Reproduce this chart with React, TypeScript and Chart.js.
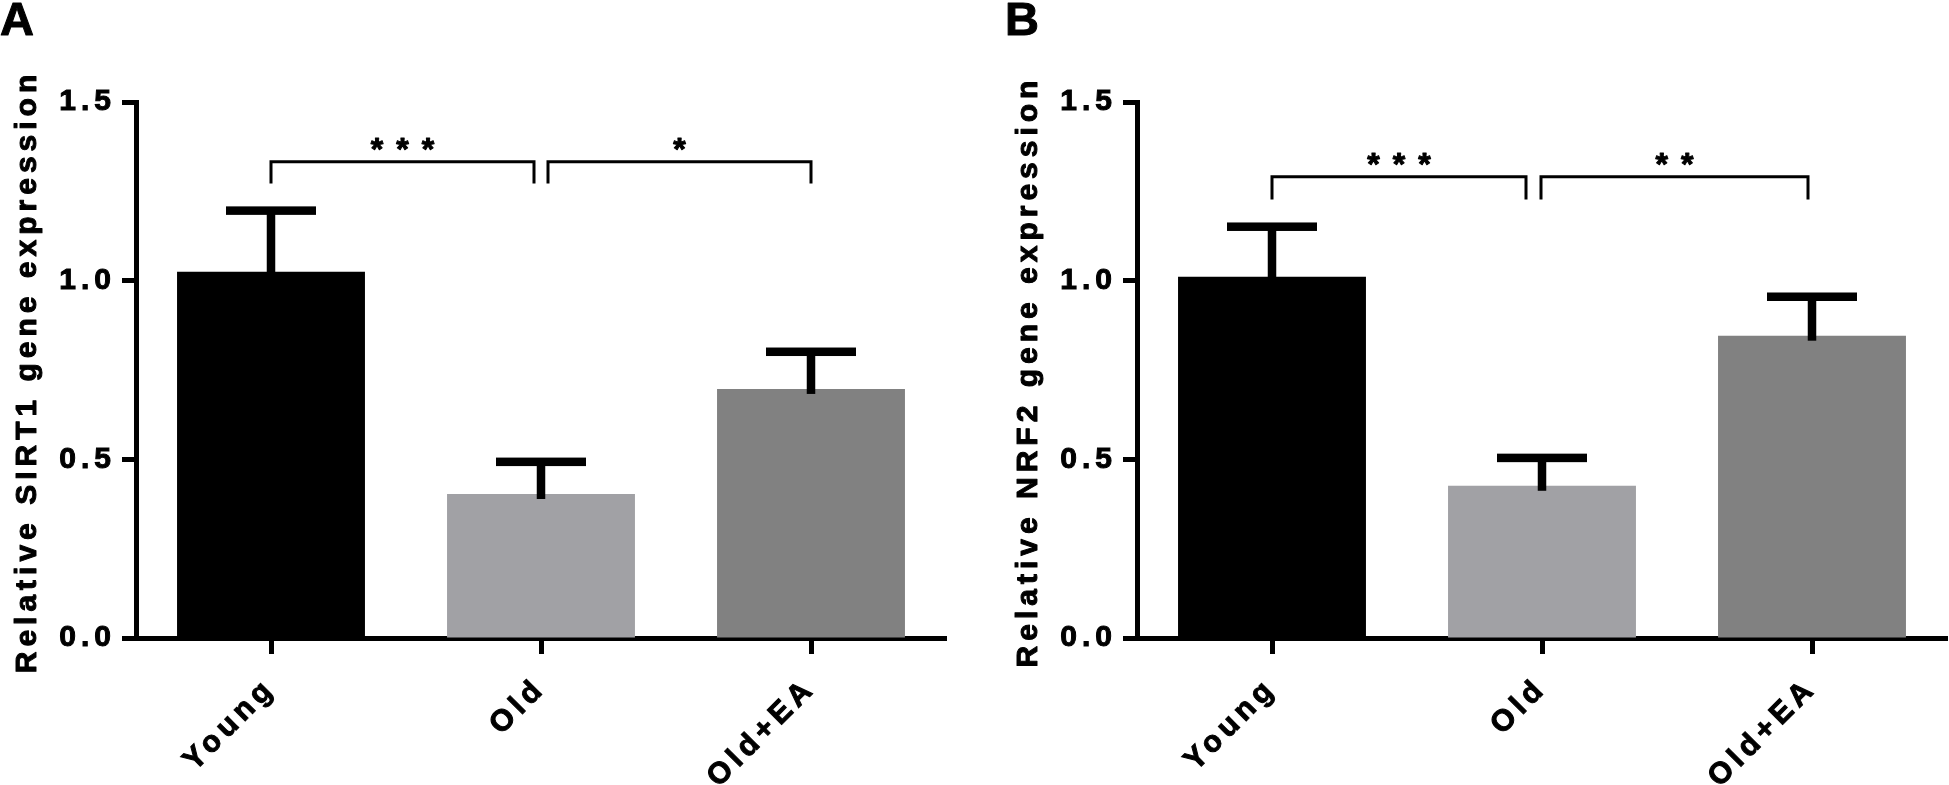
import { useEffect, useRef } from 'react';
import { Chart, registerables } from 'chart.js';

Chart.register(...registerables);

// ---------- data ----------
const categories = ['Young', 'Old', 'Old+EA'];
const sirt1Means = [1.025, 0.403, 0.697];
const sirt1Errors = [0.171, 0.09, 0.104];
const nrf2Means = [1.011, 0.426, 0.846];
const nrf2Errors = [0.14, 0.078, 0.109];
const barColors = ['#000000', '#a1a1a5', '#818181'];
const yTickValues = [0, 0.5, 1.0, 1.5];
const sirt1Title = 'Relative SIRT1 gene expression';
const nrf2Title = 'Relative NRF2 gene expression';
// significance brackets: category indices, bracket level, leg end, label
const sirt1Brackets = [
  { from: 0, to: 1, level: 1.333, leg: 1.272, label: '***' },
  { from: 1, to: 2, level: 1.333, leg: 1.272, label: '*' },
];
const nrf2Brackets = [
  { from: 0, to: 1, level: 1.291, leg: 1.227, label: '***' },
  { from: 1, to: 2, level: 1.291, leg: 1.227, label: '**' },
];

const FONT = '"Liberation Sans", Arial, sans-serif';
const SPACING = '5px';

type PanelCfg = {
  letter: string;
  title: string;
  means: number[];
  errors: number[];
  brackets: { from: number; to: number; level: number; leg: number; label: string }[];
  bracketOffsets: [number, number][];
  left: number;
  width: number;
  padRight: number;
  letterX: number;
};

const panels: PanelCfg[] = [
  {
    letter: 'A', title: sirt1Title, means: sirt1Means, errors: sirt1Errors, brackets: sirt1Brackets,
    bracketOffsets: [[0, -7], [7, 0]], left: 0, width: 1000, padRight: 54, letterX: 0,
  },
  {
    letter: 'B', title: nrf2Title, means: nrf2Means, errors: nrf2Errors, brackets: nrf2Brackets,
    bracketOffsets: [[0, -16], [-1, -4]], left: 1001, width: 948, padRight: 2, letterX: 4,
  },
];

function boldText(ctx: CanvasRenderingContext2D, text: string, x: number, y: number, w = 1) {
  ctx.lineWidth = w;
  ctx.strokeStyle = '#000';
  ctx.lineJoin = 'round';
  ctx.strokeText(text, x, y);
  ctx.fillText(text, x, y);
}

const decorPlugin = {
  id: 'decor',
  beforeLayout(chart: any) {
    chart.ctx.letterSpacing = SPACING;
  },
  beforeDraw(chart: any) {
    chart.ctx.letterSpacing = SPACING;
  },
  afterDatasetsDraw(chart: any, _args: any, opts: any) {
    const { ctx } = chart;
    const y = chart.scales.y;
    const meta = chart.getDatasetMeta(0);
    const data = chart.data.datasets[0].data as number[];
    ctx.save();
    ctx.fillStyle = '#000';
    meta.data.forEach((bar: any, i: number) => {
      const v = data[i];
      const yTop = y.getPixelForValue(v + opts.errors[i]);
      const yBar = y.getPixelForValue(v);
      ctx.fillRect(bar.x - 4.25, yTop, 8.5, yBar + 5 - yTop);
      ctx.fillRect(bar.x - 45, yTop - 4.25, 90, 8.5);
    });
    ctx.restore();
  },
  afterDraw(chart: any, _args: any, opts: any) {
    const { ctx, chartArea } = chart;
    const x = chart.scales.x;
    const y = chart.scales.y;
    ctx.save();
    // brackets
    ctx.fillStyle = '#000';
    opts.brackets.forEach((b: any, i: number) => {
      const [o1, o2] = opts.bracketOffsets[i];
      const x1 = x.getPixelForValue(b.from) + o1;
      const x2 = x.getPixelForValue(b.to) + o2;
      const yl = y.getPixelForValue(b.level);
      const yd = y.getPixelForValue(b.leg);
      ctx.strokeStyle = '#000';
      ctx.lineWidth = 3;
      ctx.lineJoin = 'miter';
      ctx.beginPath();
      ctx.moveTo(x1, yd);
      ctx.lineTo(x1, yl);
      ctx.lineTo(x2, yl);
      ctx.lineTo(x2, yd);
      ctx.stroke();
      ctx.font = `bold 32px ${FONT}`;
      ctx.letterSpacing = '13px';
      ctx.textAlign = 'center';
      ctx.textBaseline = 'alphabetic';
      boldText(ctx, b.label, (x1 + x2) / 2 + 6.5, yl - 2, 1);
    });
    // y-axis title
    ctx.letterSpacing = SPACING;
    ctx.font = `bold 30px ${FONT}`;
    ctx.textAlign = 'center';
    ctx.textBaseline = 'alphabetic';
    ctx.save();
    ctx.translate(36, (chartArea.top + chartArea.bottom) / 2 + 4);
    ctx.rotate(-Math.PI / 2);
    boldText(ctx, opts.title, 2.5, 0, 1);
    ctx.restore();
    // panel letter
    ctx.letterSpacing = '0px';
    ctx.font = `bold 47px ${FONT}`;
    ctx.textAlign = 'left';
    boldText(ctx, opts.letter, opts.letterX, 35, 1);
    ctx.restore();
  },
};

function Panel({ cfg }: { cfg: PanelCfg }) {
  const ref = useRef<HTMLCanvasElement>(null);
  useEffect(() => {
    const chart = new Chart(ref.current as HTMLCanvasElement, {
      type: 'bar',
      data: {
        labels: categories,
        datasets: [
          {
            data: cfg.means,
            backgroundColor: barColors,
            borderWidth: 0,
            barPercentage: 0.696,
            categoryPercentage: 1,
          },
        ],
      },
      options: {
        animation: false,
        responsive: false,
        devicePixelRatio: 1,
        layout: { padding: { left: 0, top: 102, right: cfg.padRight, bottom: 0 } },
        plugins: {
          legend: { display: false },
          tooltip: { enabled: false },
          decor: {
            errors: cfg.errors,
            brackets: cfg.brackets,
            bracketOffsets: cfg.bracketOffsets,
            title: cfg.title,
            letter: cfg.letter,
            letterX: cfg.letterX,
          },
        } as any,
        scales: {
          x: {
            type: 'category',
            offset: true,
            z: 1,
            border: { display: true, width: 5, color: '#000' },
            grid: {
              display: true,
              offset: false,
              drawOnChartArea: false,
              drawTicks: true,
              tickLength: 16,
              tickWidth: 5,
              tickColor: '#000',
            },
            ticks: {
              color: '#000',
              textStrokeColor: '#000',
              textStrokeWidth: 1,
              font: { family: FONT, size: 30, weight: 'bold' },
              minRotation: 45,
              maxRotation: 45,
              autoSkip: false,
              padding: 17,
            },
            afterFit: (s: any) => {
              s.height = 147;
            },
          },
          y: {
            type: 'linear',
            min: 0,
            max: 1.5,
            z: 1,
            border: { display: true, width: 5, color: '#000' },
            grid: {
              display: true,
              drawOnChartArea: false,
              drawTicks: true,
              tickLength: 14,
              tickWidth: 5,
              tickColor: '#000',
            },
            afterBuildTicks: (s: any) => {
              s.ticks = yTickValues.map((v) => ({ value: v }));
            },
            ticks: {
              color: '#000',
              textStrokeColor: '#000',
              textStrokeWidth: 1,
              font: { family: FONT, size: 30, weight: 'bold' },
              padding: 6,
              callback: (v: any) => Number(v).toFixed(1),
            },
            afterFit: (s: any) => {
              s.width = 136;
            },
          },
        },
      } as any,
      plugins: [decorPlugin as any],
    });
    return () => chart.destroy();
  }, [cfg]);
  return (
    <div style={{ position: 'absolute', left: cfg.left, top: 0, width: cfg.width, height: 785 }}>
      <canvas ref={ref} width={cfg.width} height={785} style={{ width: cfg.width, height: 785, display: 'block' }} />
    </div>
  );
}

export default function App() {
  return (
    <div style={{ position: 'absolute', left: 0, top: 0, width: 1949, height: 785, background: '#fff', overflow: 'hidden' }}>
      {panels.map((p) => (
        <Panel key={p.letter} cfg={p} />
      ))}
    </div>
  );
}
